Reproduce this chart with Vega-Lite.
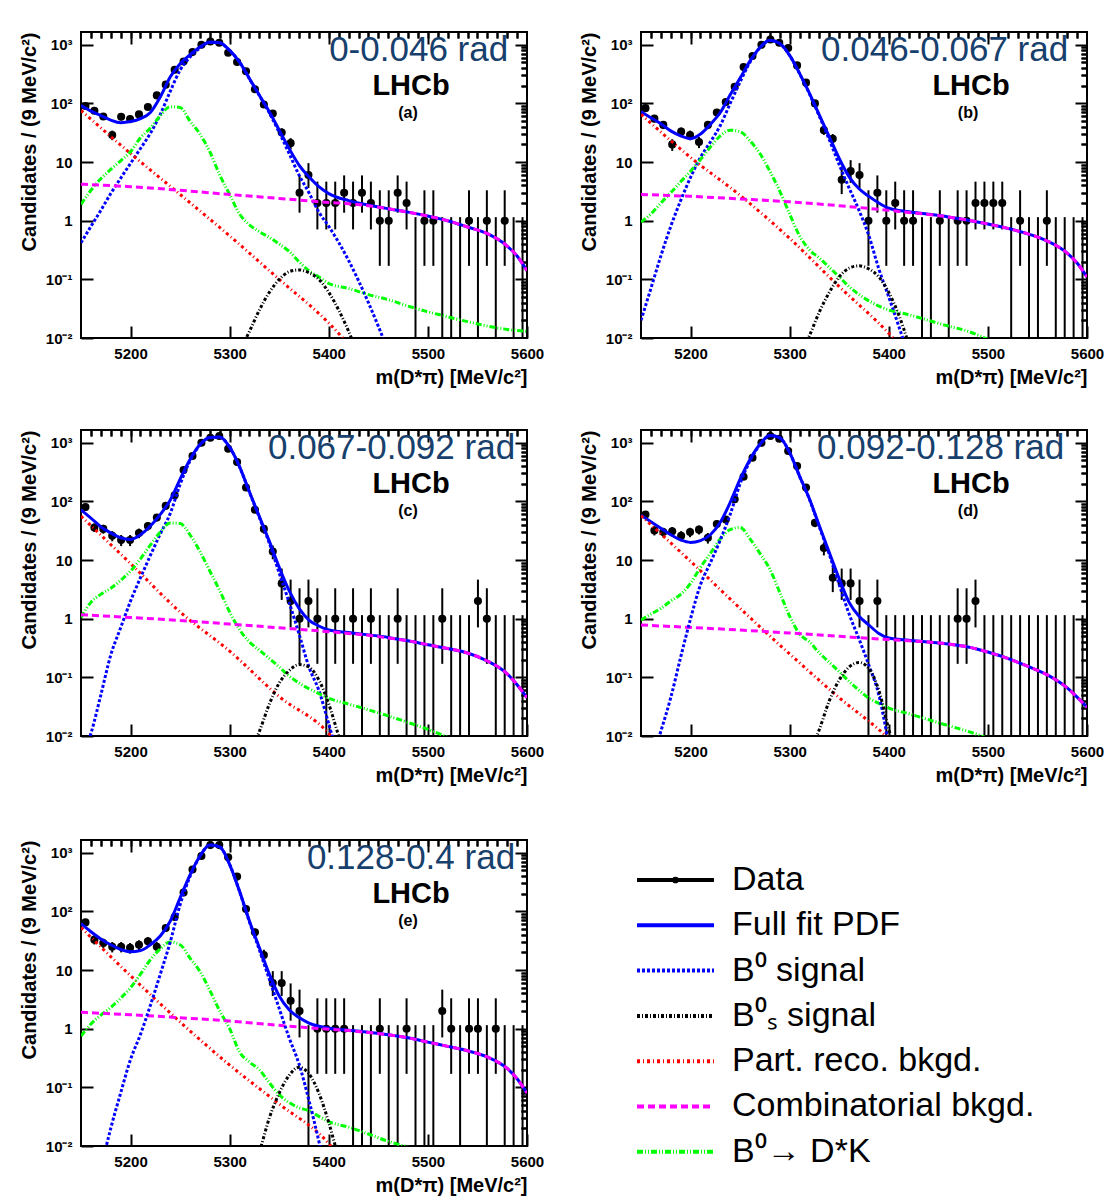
{
"$schema": "https://vega.github.io/schema/vega-lite/v6.json",
"background": "white",
"padding": {"left": 18, "top": 30, "right": 5, "bottom": 5},
"config": {
  "view": {"stroke": "black", "strokeWidth": 2},
  "axis": {"grid": false, "domain": false, "tickColor": "black", "tickWidth": 2, "labelFont": "Liberation Sans", "labelFontWeight": "bold", "labelFontSize": 15, "labelColor": "black", "titleFont": "Liberation Sans", "titleFontWeight": "bold", "titleFontSize": 20, "titleColor": "black", "labelFlush": false, "labelOverlap": false},
  "text": {"font": "Liberation Sans"}
},
"datasets": {
"pts": [
{"p":"a","m":5154.5,"n":90,"lo":80.5,"hi":99.5},
{"p":"a","m":5163.5,"n":75,"lo":66.3,"hi":83.7},
{"p":"a","m":5172.5,"n":60,"lo":52.3,"hi":67.7},
{"p":"a","m":5181.5,"n":29,"lo":23.6,"hi":34.4},
{"p":"a","m":5190.5,"n":59,"lo":51.3,"hi":66.7},
{"p":"a","m":5199.5,"n":54,"lo":46.7,"hi":61.3},
{"p":"a","m":5208.5,"n":65,"lo":56.9,"hi":73.1},
{"p":"a","m":5217.5,"n":87,"lo":77.7,"hi":96.3},
{"p":"a","m":5226.5,"n":137,"lo":125.3,"hi":148.7},
{"p":"a","m":5235.5,"n":209,"lo":194.5,"hi":223.5},
{"p":"a","m":5244.5,"n":376,"lo":356.6,"hi":395.4},
{"p":"a","m":5253.5,"n":520,"lo":497.2,"hi":542.8},
{"p":"a","m":5262.5,"n":750,"lo":722.6,"hi":777.4},
{"p":"a","m":5271.5,"n":1000,"lo":968.4,"hi":1031.6},
{"p":"a","m":5280.5,"n":1140,"lo":1106.2,"hi":1173.8},
{"p":"a","m":5289.5,"n":1080,"lo":1047.1,"hi":1112.9},
{"p":"a","m":5298.5,"n":730,"lo":703,"hi":757},
{"p":"a","m":5307.5,"n":507,"lo":484.5,"hi":529.5},
{"p":"a","m":5316.5,"n":353,"lo":334.2,"hi":371.8},
{"p":"a","m":5325.5,"n":174,"lo":160.8,"hi":187.2},
{"p":"a","m":5334.5,"n":96,"lo":86.2,"hi":105.8},
{"p":"a","m":5343.5,"n":67,"lo":58.8,"hi":75.2},
{"p":"a","m":5352.5,"n":32,"lo":26.3,"hi":37.7},
{"p":"a","m":5361.5,"n":21,"lo":16.4,"hi":25.6},
{"p":"a","m":5370.5,"n":3,"lo":1.37,"hi":5.92},
{"p":"a","m":5379.5,"n":6,"lo":3.62,"hi":9.58},
{"p":"a","m":5388.5,"n":2,"lo":0.71,"hi":4.64},
{"p":"a","m":5397.5,"n":2,"lo":0.71,"hi":4.64},
{"p":"a","m":5406.5,"n":2,"lo":0.71,"hi":4.64},
{"p":"a","m":5415.5,"n":3,"lo":1.37,"hi":5.92},
{"p":"a","m":5424.5,"n":2,"lo":0.71,"hi":4.64},
{"p":"a","m":5433.5,"n":3,"lo":1.37,"hi":5.92},
{"p":"a","m":5442.5,"n":2,"lo":0.71,"hi":4.64},
{"p":"a","m":5451.5,"n":1,"lo":0.17,"hi":3.3},
{"p":"a","m":5460.5,"n":1,"lo":0.17,"hi":3.3},
{"p":"a","m":5469.5,"n":3,"lo":1.37,"hi":5.92},
{"p":"a","m":5478.5,"n":2,"lo":0.71,"hi":4.64},
{"p":"a","m":5487.5,"n":0,"lo":0.001,"hi":1.15},
{"p":"a","m":5496.5,"n":1,"lo":0.17,"hi":3.3},
{"p":"a","m":5505.5,"n":1,"lo":0.17,"hi":3.3},
{"p":"a","m":5514.5,"n":0,"lo":0.001,"hi":1.15},
{"p":"a","m":5523.5,"n":0,"lo":0.001,"hi":1.15},
{"p":"a","m":5532.5,"n":0,"lo":0.001,"hi":1.15},
{"p":"a","m":5541.5,"n":1,"lo":0.17,"hi":3.3},
{"p":"a","m":5550.5,"n":0,"lo":0.001,"hi":1.15},
{"p":"a","m":5559.5,"n":1,"lo":0.17,"hi":3.3},
{"p":"a","m":5568.5,"n":0,"lo":0.001,"hi":1.15},
{"p":"a","m":5577.5,"n":1,"lo":0.17,"hi":3.3},
{"p":"a","m":5586.5,"n":0,"lo":0.001,"hi":1.15},
{"p":"a","m":5595.5,"n":0,"lo":0.001,"hi":1.15},
{"p":"b","m":5154.5,"n":83,"lo":73.9,"hi":92.1},
{"p":"b","m":5163.5,"n":55,"lo":47.6,"hi":62.4},
{"p":"b","m":5172.5,"n":43,"lo":36.4,"hi":49.6},
{"p":"b","m":5181.5,"n":20,"lo":15.5,"hi":24.5},
{"p":"b","m":5190.5,"n":33,"lo":27.3,"hi":38.7},
{"p":"b","m":5199.5,"n":29,"lo":23.6,"hi":34.4},
{"p":"b","m":5208.5,"n":22,"lo":17.3,"hi":26.7},
{"p":"b","m":5217.5,"n":43,"lo":36.4,"hi":49.6},
{"p":"b","m":5226.5,"n":70,"lo":61.6,"hi":78.4},
{"p":"b","m":5235.5,"n":106,"lo":95.7,"hi":116.3},
{"p":"b","m":5244.5,"n":192,"lo":178.1,"hi":205.9},
{"p":"b","m":5253.5,"n":418,"lo":397.6,"hi":438.4},
{"p":"b","m":5262.5,"n":642,"lo":616.7,"hi":667.3},
{"p":"b","m":5271.5,"n":1000,"lo":968.4,"hi":1031.6},
{"p":"b","m":5280.5,"n":1230,"lo":1194.9,"hi":1265.1},
{"p":"b","m":5289.5,"n":1080,"lo":1047.1,"hi":1112.9},
{"p":"b","m":5298.5,"n":880,"lo":850.3,"hi":909.7},
{"p":"b","m":5307.5,"n":445,"lo":423.9,"hi":466.1},
{"p":"b","m":5316.5,"n":226,"lo":211,"hi":241},
{"p":"b","m":5325.5,"n":100,"lo":90,"hi":110},
{"p":"b","m":5334.5,"n":35,"lo":29.1,"hi":40.9},
{"p":"b","m":5343.5,"n":25,"lo":20,"hi":30},
{"p":"b","m":5352.5,"n":5,"lo":2.84,"hi":8.38},
{"p":"b","m":5361.5,"n":7,"lo":4.42,"hi":10.77},
{"p":"b","m":5370.5,"n":6,"lo":3.62,"hi":9.58},
{"p":"b","m":5379.5,"n":1,"lo":0.17,"hi":3.3},
{"p":"b","m":5388.5,"n":3,"lo":1.37,"hi":5.92},
{"p":"b","m":5397.5,"n":1,"lo":0.17,"hi":3.3},
{"p":"b","m":5406.5,"n":2,"lo":0.71,"hi":4.64},
{"p":"b","m":5415.5,"n":1,"lo":0.17,"hi":3.3},
{"p":"b","m":5424.5,"n":1,"lo":0.17,"hi":3.3},
{"p":"b","m":5433.5,"n":0,"lo":0.001,"hi":1.15},
{"p":"b","m":5442.5,"n":0,"lo":0.001,"hi":1.15},
{"p":"b","m":5451.5,"n":1,"lo":0.17,"hi":3.3},
{"p":"b","m":5460.5,"n":0,"lo":0.001,"hi":1.15},
{"p":"b","m":5469.5,"n":1,"lo":0.17,"hi":3.3},
{"p":"b","m":5478.5,"n":1,"lo":0.17,"hi":3.3},
{"p":"b","m":5487.5,"n":2,"lo":0.71,"hi":4.64},
{"p":"b","m":5496.5,"n":2,"lo":0.71,"hi":4.64},
{"p":"b","m":5505.5,"n":2,"lo":0.71,"hi":4.64},
{"p":"b","m":5514.5,"n":2,"lo":0.71,"hi":4.64},
{"p":"b","m":5523.5,"n":0,"lo":0.001,"hi":1.15},
{"p":"b","m":5532.5,"n":1,"lo":0.17,"hi":3.3},
{"p":"b","m":5541.5,"n":0,"lo":0.001,"hi":1.15},
{"p":"b","m":5550.5,"n":0,"lo":0.001,"hi":1.15},
{"p":"b","m":5559.5,"n":1,"lo":0.17,"hi":3.3},
{"p":"b","m":5568.5,"n":0,"lo":0.001,"hi":1.15},
{"p":"b","m":5577.5,"n":0,"lo":0.001,"hi":1.15},
{"p":"b","m":5586.5,"n":0,"lo":0.001,"hi":1.15},
{"p":"b","m":5595.5,"n":0,"lo":0.001,"hi":1.15},
{"p":"c","m":5154.5,"n":80,"lo":71.1,"hi":88.9},
{"p":"c","m":5163.5,"n":36,"lo":30,"hi":42},
{"p":"c","m":5172.5,"n":34,"lo":28.2,"hi":39.8},
{"p":"c","m":5181.5,"n":26,"lo":20.9,"hi":31.1},
{"p":"c","m":5190.5,"n":22,"lo":17.3,"hi":26.7},
{"p":"c","m":5199.5,"n":22,"lo":17.3,"hi":26.7},
{"p":"c","m":5208.5,"n":29,"lo":23.6,"hi":34.4},
{"p":"c","m":5217.5,"n":38,"lo":31.8,"hi":44.2},
{"p":"c","m":5226.5,"n":53,"lo":45.7,"hi":60.3},
{"p":"c","m":5235.5,"n":84,"lo":74.8,"hi":93.2},
{"p":"c","m":5244.5,"n":127,"lo":115.7,"hi":138.3},
{"p":"c","m":5253.5,"n":344,"lo":325.5,"hi":362.5},
{"p":"c","m":5262.5,"n":593,"lo":568.6,"hi":617.4},
{"p":"c","m":5271.5,"n":1000,"lo":968.4,"hi":1031.6},
{"p":"c","m":5280.5,"n":1220,"lo":1185.1,"hi":1254.9},
{"p":"c","m":5289.5,"n":1300,"lo":1263.9,"hi":1336.1},
{"p":"c","m":5298.5,"n":790,"lo":761.9,"hi":818.1},
{"p":"c","m":5307.5,"n":470,"lo":448.3,"hi":491.7},
{"p":"c","m":5316.5,"n":172,"lo":158.9,"hi":185.1},
{"p":"c","m":5325.5,"n":72,"lo":63.5,"hi":80.5},
{"p":"c","m":5334.5,"n":34,"lo":28.2,"hi":39.8},
{"p":"c","m":5343.5,"n":14,"lo":10.3,"hi":17.7},
{"p":"c","m":5352.5,"n":4,"lo":2.09,"hi":7.16},
{"p":"c","m":5361.5,"n":2,"lo":0.71,"hi":4.64},
{"p":"c","m":5370.5,"n":1,"lo":0.17,"hi":3.3},
{"p":"c","m":5379.5,"n":2,"lo":0.71,"hi":4.64},
{"p":"c","m":5388.5,"n":1,"lo":0.17,"hi":3.3},
{"p":"c","m":5397.5,"n":0,"lo":0.001,"hi":1.15},
{"p":"c","m":5406.5,"n":1,"lo":0.17,"hi":3.3},
{"p":"c","m":5415.5,"n":0,"lo":0.001,"hi":1.15},
{"p":"c","m":5424.5,"n":1,"lo":0.17,"hi":3.3},
{"p":"c","m":5433.5,"n":0,"lo":0.001,"hi":1.15},
{"p":"c","m":5442.5,"n":1,"lo":0.17,"hi":3.3},
{"p":"c","m":5451.5,"n":0,"lo":0.001,"hi":1.15},
{"p":"c","m":5460.5,"n":0,"lo":0.001,"hi":1.15},
{"p":"c","m":5469.5,"n":1,"lo":0.17,"hi":3.3},
{"p":"c","m":5478.5,"n":0,"lo":0.001,"hi":1.15},
{"p":"c","m":5487.5,"n":0,"lo":0.001,"hi":1.15},
{"p":"c","m":5496.5,"n":0,"lo":0.001,"hi":1.15},
{"p":"c","m":5505.5,"n":0,"lo":0.001,"hi":1.15},
{"p":"c","m":5514.5,"n":1,"lo":0.17,"hi":3.3},
{"p":"c","m":5523.5,"n":0,"lo":0.001,"hi":1.15},
{"p":"c","m":5532.5,"n":0,"lo":0.001,"hi":1.15},
{"p":"c","m":5541.5,"n":0,"lo":0.001,"hi":1.15},
{"p":"c","m":5550.5,"n":2,"lo":0.71,"hi":4.64},
{"p":"c","m":5559.5,"n":1,"lo":0.17,"hi":3.3},
{"p":"c","m":5568.5,"n":0,"lo":0.001,"hi":1.15},
{"p":"c","m":5577.5,"n":0,"lo":0.001,"hi":1.15},
{"p":"c","m":5586.5,"n":0,"lo":0.001,"hi":1.15},
{"p":"c","m":5595.5,"n":0,"lo":0.001,"hi":1.15},
{"p":"d","m":5154.5,"n":60,"lo":52.3,"hi":67.7},
{"p":"d","m":5163.5,"n":32,"lo":26.3,"hi":37.7},
{"p":"d","m":5172.5,"n":30,"lo":24.5,"hi":35.5},
{"p":"d","m":5181.5,"n":31,"lo":25.4,"hi":36.6},
{"p":"d","m":5190.5,"n":26,"lo":20.9,"hi":31.1},
{"p":"d","m":5199.5,"n":30,"lo":24.5,"hi":35.5},
{"p":"d","m":5208.5,"n":33,"lo":27.3,"hi":38.7},
{"p":"d","m":5217.5,"n":24,"lo":19.1,"hi":28.9},
{"p":"d","m":5226.5,"n":41,"lo":34.6,"hi":47.4},
{"p":"d","m":5235.5,"n":49,"lo":42,"hi":56},
{"p":"d","m":5244.5,"n":109,"lo":98.6,"hi":119.4},
{"p":"d","m":5253.5,"n":264,"lo":247.8,"hi":280.2},
{"p":"d","m":5262.5,"n":556,"lo":532.4,"hi":579.6},
{"p":"d","m":5271.5,"n":1000,"lo":968.4,"hi":1031.6},
{"p":"d","m":5280.5,"n":1300,"lo":1263.9,"hi":1336.1},
{"p":"d","m":5289.5,"n":1170,"lo":1135.8,"hi":1204.2},
{"p":"d","m":5298.5,"n":722,"lo":695.1,"hi":748.9},
{"p":"d","m":5307.5,"n":400,"lo":380,"hi":420},
{"p":"d","m":5316.5,"n":172,"lo":158.9,"hi":185.1},
{"p":"d","m":5325.5,"n":43,"lo":36.4,"hi":49.6},
{"p":"d","m":5334.5,"n":16,"lo":12,"hi":20},
{"p":"d","m":5343.5,"n":5,"lo":2.84,"hi":8.38},
{"p":"d","m":5352.5,"n":4,"lo":2.09,"hi":7.16},
{"p":"d","m":5361.5,"n":4,"lo":2.09,"hi":7.16},
{"p":"d","m":5370.5,"n":2,"lo":0.71,"hi":4.64},
{"p":"d","m":5379.5,"n":0,"lo":0.001,"hi":1.15},
{"p":"d","m":5388.5,"n":2,"lo":0.71,"hi":4.64},
{"p":"d","m":5397.5,"n":0,"lo":0.001,"hi":1.15},
{"p":"d","m":5406.5,"n":0,"lo":0.001,"hi":1.15},
{"p":"d","m":5415.5,"n":0,"lo":0.001,"hi":1.15},
{"p":"d","m":5424.5,"n":0,"lo":0.001,"hi":1.15},
{"p":"d","m":5433.5,"n":0,"lo":0.001,"hi":1.15},
{"p":"d","m":5442.5,"n":0,"lo":0.001,"hi":1.15},
{"p":"d","m":5451.5,"n":0,"lo":0.001,"hi":1.15},
{"p":"d","m":5460.5,"n":0,"lo":0.001,"hi":1.15},
{"p":"d","m":5469.5,"n":1,"lo":0.17,"hi":3.3},
{"p":"d","m":5478.5,"n":1,"lo":0.17,"hi":3.3},
{"p":"d","m":5487.5,"n":2,"lo":0.71,"hi":4.64},
{"p":"d","m":5496.5,"n":0,"lo":0.001,"hi":1.15},
{"p":"d","m":5505.5,"n":0,"lo":0.001,"hi":1.15},
{"p":"d","m":5514.5,"n":0,"lo":0.001,"hi":1.15},
{"p":"d","m":5523.5,"n":0,"lo":0.001,"hi":1.15},
{"p":"d","m":5532.5,"n":0,"lo":0.001,"hi":1.15},
{"p":"d","m":5541.5,"n":0,"lo":0.001,"hi":1.15},
{"p":"d","m":5550.5,"n":0,"lo":0.001,"hi":1.15},
{"p":"d","m":5559.5,"n":0,"lo":0.001,"hi":1.15},
{"p":"d","m":5568.5,"n":0,"lo":0.001,"hi":1.15},
{"p":"d","m":5577.5,"n":0,"lo":0.001,"hi":1.15},
{"p":"d","m":5586.5,"n":0,"lo":0.001,"hi":1.15},
{"p":"d","m":5595.5,"n":0,"lo":0.001,"hi":1.15},
{"p":"e","m":5154.5,"n":65,"lo":56.9,"hi":73.1},
{"p":"e","m":5163.5,"n":33,"lo":27.3,"hi":38.7},
{"p":"e","m":5172.5,"n":29,"lo":23.6,"hi":34.4},
{"p":"e","m":5181.5,"n":25,"lo":20,"hi":30},
{"p":"e","m":5190.5,"n":25,"lo":20,"hi":30},
{"p":"e","m":5199.5,"n":24,"lo":19.1,"hi":28.9},
{"p":"e","m":5208.5,"n":27,"lo":21.8,"hi":32.2},
{"p":"e","m":5217.5,"n":31,"lo":25.4,"hi":36.6},
{"p":"e","m":5226.5,"n":25,"lo":20,"hi":30},
{"p":"e","m":5235.5,"n":52,"lo":44.8,"hi":59.2},
{"p":"e","m":5244.5,"n":80,"lo":71.1,"hi":88.9},
{"p":"e","m":5253.5,"n":210,"lo":195.5,"hi":224.5},
{"p":"e","m":5262.5,"n":520,"lo":497.2,"hi":542.8},
{"p":"e","m":5271.5,"n":880,"lo":850.3,"hi":909.7},
{"p":"e","m":5280.5,"n":1350,"lo":1313.3,"hi":1386.7},
{"p":"e","m":5289.5,"n":1350,"lo":1313.3,"hi":1386.7},
{"p":"e","m":5298.5,"n":835,"lo":806.1,"hi":863.9},
{"p":"e","m":5307.5,"n":392,"lo":372.2,"hi":411.8},
{"p":"e","m":5316.5,"n":110,"lo":99.5,"hi":120.5},
{"p":"e","m":5325.5,"n":44,"lo":37.4,"hi":50.6},
{"p":"e","m":5334.5,"n":18,"lo":13.8,"hi":22.2},
{"p":"e","m":5343.5,"n":6,"lo":3.62,"hi":9.58},
{"p":"e","m":5352.5,"n":6,"lo":3.62,"hi":9.58},
{"p":"e","m":5361.5,"n":3,"lo":1.37,"hi":5.92},
{"p":"e","m":5370.5,"n":2,"lo":0.71,"hi":4.64},
{"p":"e","m":5379.5,"n":0,"lo":0.001,"hi":1.15},
{"p":"e","m":5388.5,"n":1,"lo":0.17,"hi":3.3},
{"p":"e","m":5397.5,"n":1,"lo":0.17,"hi":3.3},
{"p":"e","m":5406.5,"n":1,"lo":0.17,"hi":3.3},
{"p":"e","m":5415.5,"n":1,"lo":0.17,"hi":3.3},
{"p":"e","m":5424.5,"n":0,"lo":0.001,"hi":1.15},
{"p":"e","m":5433.5,"n":0,"lo":0.001,"hi":1.15},
{"p":"e","m":5442.5,"n":0,"lo":0.001,"hi":1.15},
{"p":"e","m":5451.5,"n":1,"lo":0.17,"hi":3.3},
{"p":"e","m":5460.5,"n":0,"lo":0.001,"hi":1.15},
{"p":"e","m":5469.5,"n":0,"lo":0.001,"hi":1.15},
{"p":"e","m":5478.5,"n":1,"lo":0.17,"hi":3.3},
{"p":"e","m":5487.5,"n":0,"lo":0.001,"hi":1.15},
{"p":"e","m":5496.5,"n":0,"lo":0.001,"hi":1.15},
{"p":"e","m":5505.5,"n":0,"lo":0.001,"hi":1.15},
{"p":"e","m":5514.5,"n":2,"lo":0.71,"hi":4.64},
{"p":"e","m":5523.5,"n":1,"lo":0.17,"hi":3.3},
{"p":"e","m":5532.5,"n":0,"lo":0.001,"hi":1.15},
{"p":"e","m":5541.5,"n":1,"lo":0.17,"hi":3.3},
{"p":"e","m":5550.5,"n":1,"lo":0.17,"hi":3.3},
{"p":"e","m":5559.5,"n":0,"lo":0.001,"hi":1.15},
{"p":"e","m":5568.5,"n":1,"lo":0.17,"hi":3.3},
{"p":"e","m":5577.5,"n":0,"lo":0.001,"hi":1.15},
{"p":"e","m":5586.5,"n":0,"lo":0.001,"hi":1.15},
{"p":"e","m":5595.5,"n":0,"lo":0.001,"hi":1.15}
],
"cur": [
{"p":"a","m":5150,"f":92,"s":0.42,"pr":76,"cb":4.2,"dk":1.9},
{"p":"a","m":5160,"f":74,"s":0.8,"dk":3.3},
{"p":"a","m":5170,"f":62,"s":1.5,"dk":5.2},
{"p":"a","m":5180,"f":52,"s":2.9,"dk":7.5},
{"p":"a","m":5190,"f":47,"s":5.3,"dk":10.5},
{"p":"a","m":5200,"f":49,"s":9.5,"pr":14,"cb":3.8,"dk":15},
{"p":"a","m":5210,"f":55,"s":17,"dk":26},
{"p":"a","m":5220,"f":70,"s":31,"dk":38},
{"p":"a","m":5230,"f":129,"s":65,"dk":62},
{"p":"a","m":5240,"f":282,"s":160,"dk":88},
{"p":"a","m":5250,"f":476,"s":370,"pr":2.8,"cb":3.3,"dk":85},
{"p":"a","m":5260,"f":676,"s":620,"dk":50},
{"p":"a","m":5270,"f":913,"s":880,"dk":30},
{"p":"a","m":5280,"f":1110,"s":1095,"dk":15},
{"p":"a","m":5290,"f":1080,"s":1075,"dk":6},
{"p":"a","m":5300,"f":800,"s":795,"pr":0.55,"cb":2.8,"dk":2.8},
{"p":"a","m":5310,"f":507,"s":505,"bs":0.006,"dk":1.3},
{"p":"a","m":5320,"f":264,"s":262,"bs":0.013,"dk":0.85},
{"p":"a","m":5330,"f":138,"s":136,"bs":0.03,"dk":0.65},
{"p":"a","m":5340,"f":72,"s":69,"bs":0.06,"dk":0.52},
{"p":"a","m":5350,"f":35,"s":32,"pr":0.1,"cb":2.4,"bs":0.1,"dk":0.4},
{"p":"a","m":5360,"f":17,"s":14,"bs":0.135,"dk":0.3},
{"p":"a","m":5370,"f":8.9,"s":6,"bs":0.145,"dk":0.2},
{"p":"a","m":5380,"f":5.6,"s":3,"bs":0.13,"dk":0.14},
{"p":"a","m":5390,"f":3.8,"s":1.4,"bs":0.1,"dk":0.11},
{"p":"a","m":5400,"f":2.9,"s":0.8,"pr":0.018,"cb":2.05,"bs":0.06,"dk":0.085},
{"p":"a","m":5410,"bs":0.03},
{"p":"a","m":5420,"f":2.2,"s":0.21,"cb":1.95,"bs":0.013,"dk":0.07},
{"p":"a","m":5430,"pr":0.005,"bs":0.005},
{"p":"a","m":5440,"f":1.85,"s":0.04,"cb":1.8,"dk":0.055},
{"p":"a","m":5460,"f":1.6,"s":0.006,"cb":1.6,"dk":0.045},
{"p":"a","m":5480,"f":1.4,"cb":1.4,"dk":0.035},
{"p":"a","m":5500,"f":1.2,"cb":1.2,"dk":0.028},
{"p":"a","m":5520,"f":1.0,"cb":1.0,"dk":0.023},
{"p":"a","m":5540,"f":0.78,"cb":0.78,"dk":0.019},
{"p":"a","m":5560,"f":0.6,"cb":0.6,"dk":0.016},
{"p":"a","m":5580,"f":0.37,"cb":0.37,"dk":0.014},
{"p":"a","m":5590,"f":0.25,"cb":0.25},
{"p":"a","m":5600,"f":0.14,"cb":0.14,"dk":0.013},
{"p":"b","m":5150,"f":72,"s":0.02,"pr":65,"cb":2.8,"dk":0.95},
{"p":"b","m":5160,"f":57,"s":0.07,"dk":1.3},
{"p":"b","m":5170,"f":45,"s":0.25,"dk":2.0},
{"p":"b","m":5180,"f":34,"s":0.8,"dk":3.0},
{"p":"b","m":5190,"f":28,"s":2.2,"dk":4.6},
{"p":"b","m":5200,"f":25,"s":5.5,"pr":12,"cb":2.6,"dk":7},
{"p":"b","m":5210,"f":30,"s":12,"dk":11},
{"p":"b","m":5220,"f":44,"s":22,"dk":18},
{"p":"b","m":5230,"f":70,"s":42,"dk":28},
{"p":"b","m":5240,"f":140,"s":100,"dk":35},
{"p":"b","m":5250,"f":270,"s":232,"pr":2.7,"cb":2.35,"dk":33},
{"p":"b","m":5260,"f":530,"s":505,"dk":23},
{"p":"b","m":5270,"f":900,"s":885,"dk":14},
{"p":"b","m":5280,"f":1190,"s":1180,"dk":7},
{"p":"b","m":5290,"f":1050,"s":1045,"dk":3.2},
{"p":"b","m":5300,"f":660,"s":655,"pr":0.5,"cb":2.1,"dk":1.3},
{"p":"b","m":5310,"f":325,"s":322,"bs":0.005,"dk":0.55},
{"p":"b","m":5320,"f":148,"s":145,"bs":0.011,"dk":0.32},
{"p":"b","m":5330,"f":63,"s":60,"bs":0.028,"dk":0.23},
{"p":"b","m":5340,"f":27,"s":24,"bs":0.06,"dk":0.16},
{"p":"b","m":5350,"f":11.5,"s":9,"pr":0.075,"cb":1.8,"bs":0.11,"dk":0.11},
{"p":"b","m":5360,"f":5.6,"s":3.6,"bs":0.155,"dk":0.075},
{"p":"b","m":5370,"f":3.5,"s":1.5,"bs":0.17,"dk":0.055},
{"p":"b","m":5380,"f":2.6,"s":0.55,"bs":0.15,"dk":0.043},
{"p":"b","m":5390,"f":2.0,"s":0.15,"bs":0.11,"dk":0.035},
{"p":"b","m":5400,"f":1.63,"s":0.05,"pr":0.012,"cb":1.5,"bs":0.06,"dk":0.03},
{"p":"b","m":5410,"s":0.016,"bs":0.025},
{"p":"b","m":5420,"f":1.42,"s":0.005,"pr":0.005,"cb":1.38,"bs":0.008,"dk":0.025},
{"p":"b","m":5440,"f":1.29,"cb":1.28,"dk":0.02},
{"p":"b","m":5460,"f":1.16,"cb":1.16,"dk":0.016},
{"p":"b","m":5480,"f":1.02,"cb":1.02,"dk":0.013},
{"p":"b","m":5500,"f":0.88,"cb":0.88,"dk":0.0095},
{"p":"b","m":5520,"f":0.74,"cb":0.74,"dk":0.007},
{"p":"b","m":5540,"f":0.6,"cb":0.6},
{"p":"b","m":5560,"f":0.45,"cb":0.45},
{"p":"b","m":5580,"f":0.28,"cb":0.28},
{"p":"b","m":5590,"f":0.19,"cb":0.19},
{"p":"b","m":5600,"f":0.11,"cb":0.11},
{"p":"c","m":5150,"f":72,"s":0.004,"pr":56,"cb":1.17,"dk":1.05},
{"p":"c","m":5160,"f":52,"s":0.011,"dk":1.9},
{"p":"c","m":5170,"f":37,"s":0.05,"dk":2.6},
{"p":"c","m":5180,"f":29,"s":0.24,"dk":3.3},
{"p":"c","m":5190,"f":24,"s":0.7,"dk":4.5},
{"p":"c","m":5200,"f":22.5,"s":2,"pr":8.7,"cb":1.05,"dk":6.5},
{"p":"c","m":5210,"f":27,"s":5,"dk":10.5},
{"p":"c","m":5220,"f":38,"s":12,"dk":18},
{"p":"c","m":5230,"f":60,"s":28,"dk":30},
{"p":"c","m":5240,"f":105,"s":62,"dk":43},
{"p":"c","m":5250,"f":240,"s":195,"pr":1.3,"cb":0.93,"dk":42},
{"p":"c","m":5260,"f":520,"s":490,"dk":27},
{"p":"c","m":5270,"f":930,"s":915,"dk":14},
{"p":"c","m":5280,"f":1230,"s":1222,"dk":6.5},
{"p":"c","m":5290,"f":1250,"s":1246,"dk":3},
{"p":"c","m":5300,"f":840,"s":838,"pr":0.28,"cb":0.81,"dk":1.3},
{"p":"c","m":5310,"f":390,"s":388,"dk":0.65},
{"p":"c","m":5320,"f":145,"s":143,"bs":0.005,"dk":0.4},
{"p":"c","m":5330,"f":55,"s":53,"bs":0.012,"dk":0.29},
{"p":"c","m":5340,"f":21,"s":19.5,"bs":0.035,"dk":0.21},
{"p":"c","m":5350,"f":7.5,"s":6,"pr":0.047,"cb":0.7,"bs":0.08,"dk":0.15},
{"p":"c","m":5360,"f":3.0,"s":1.9,"bs":0.13,"dk":0.105},
{"p":"c","m":5370,"f":1.5,"s":0.55,"bs":0.165,"dk":0.08},
{"p":"c","m":5380,"f":0.95,"s":0.15,"bs":0.15,"dk":0.064},
{"p":"c","m":5390,"f":0.75,"s":0.06,"bs":0.09,"dk":0.053},
{"p":"c","m":5400,"f":0.64,"s":0.016,"pr":0.011,"cb":0.6,"bs":0.035,"dk":0.044},
{"p":"c","m":5410,"s":0.004,"bs":0.01},
{"p":"c","m":5420,"f":0.58,"pr":0.004,"cb":0.56,"bs":0.003,"dk":0.035},
{"p":"c","m":5440,"f":0.53,"cb":0.52,"dk":0.028},
{"p":"c","m":5460,"f":0.48,"cb":0.47,"dk":0.022},
{"p":"c","m":5480,"f":0.42,"cb":0.42,"dk":0.017},
{"p":"c","m":5500,"f":0.36,"cb":0.36,"dk":0.013},
{"p":"c","m":5520,"f":0.31,"cb":0.31,"dk":0.0095},
{"p":"c","m":5540,"f":0.26,"cb":0.26,"dk":0.007},
{"p":"c","m":5560,"f":0.19,"cb":0.19},
{"p":"c","m":5580,"f":0.115,"cb":0.115},
{"p":"c","m":5590,"f":0.075,"cb":0.075},
{"p":"c","m":5600,"f":0.045,"cb":0.045},
{"p":"d","m":5150,"f":58,"pr":57,"cb":0.78,"dk":0.95},
{"p":"d","m":5160,"f":45,"s":0.0035,"dk":1.2},
{"p":"d","m":5170,"f":35,"s":0.012,"dk":1.5},
{"p":"d","m":5180,"f":27,"s":0.045,"dk":2.0},
{"p":"d","m":5190,"f":22,"s":0.22,"dk":2.6},
{"p":"d","m":5200,"f":20,"s":1.0,"pr":9.5,"cb":0.71,"dk":4},
{"p":"d","m":5210,"f":21.5,"s":3.8,"dk":7.5},
{"p":"d","m":5220,"f":27,"s":9,"dk":13},
{"p":"d","m":5230,"f":44,"s":22,"dk":23},
{"p":"d","m":5240,"f":96,"s":60,"dk":33},
{"p":"d","m":5250,"f":240,"s":200,"pr":1.5,"cb":0.64,"dk":36},
{"p":"d","m":5260,"f":520,"s":495,"dk":23},
{"p":"d","m":5270,"f":940,"s":925,"dk":13},
{"p":"d","m":5280,"f":1330,"s":1322,"dk":7},
{"p":"d","m":5290,"f":1220,"s":1216,"dk":2.8},
{"p":"d","m":5300,"f":680,"s":678,"pr":0.25,"cb":0.57,"dk":1.1},
{"p":"d","m":5310,"f":270,"s":268,"dk":0.55},
{"p":"d","m":5320,"f":110,"s":108,"bs":0.005,"dk":0.4},
{"p":"d","m":5330,"f":38,"s":36.5,"bs":0.013,"dk":0.26},
{"p":"d","m":5340,"f":13.5,"s":12.5,"bs":0.04,"dk":0.18},
{"p":"d","m":5350,"f":4.8,"s":3.8,"pr":0.045,"cb":0.5,"bs":0.09,"dk":0.125},
{"p":"d","m":5360,"f":1.9,"s":1.2,"bs":0.15,"dk":0.085},
{"p":"d","m":5370,"f":1.1,"s":0.45,"bs":0.18,"dk":0.06},
{"p":"d","m":5380,"f":0.78,"s":0.16,"bs":0.14,"dk":0.044},
{"p":"d","m":5390,"f":0.56,"s":0.05,"bs":0.06,"dk":0.036},
{"p":"d","m":5400,"f":0.47,"s":0.007,"pr":0.009,"cb":0.44,"bs":0.013,"dk":0.03},
{"p":"d","m":5410,"bs":0.004},
{"p":"d","m":5420,"f":0.43,"pr":0.004,"cb":0.42,"dk":0.024},
{"p":"d","m":5440,"f":0.4,"cb":0.4,"dk":0.019},
{"p":"d","m":5460,"f":0.37,"cb":0.37,"dk":0.015},
{"p":"d","m":5480,"f":0.33,"cb":0.33,"dk":0.012},
{"p":"d","m":5500,"f":0.27,"cb":0.27,"dk":0.009},
{"p":"d","m":5520,"f":0.21,"cb":0.21,"dk":0.006},
{"p":"d","m":5540,"f":0.155,"cb":0.155},
{"p":"d","m":5560,"f":0.11,"cb":0.11},
{"p":"d","m":5580,"f":0.066,"cb":0.066},
{"p":"d","m":5590,"f":0.046,"cb":0.046},
{"p":"d","m":5600,"f":0.031,"cb":0.031},
{"p":"e","m":5150,"f":62,"pr":53,"cb":1.9,"dk":0.75},
{"p":"e","m":5160,"f":45,"dk":1.2},
{"p":"e","m":5170,"f":34,"s":0.004,"dk":1.7},
{"p":"e","m":5180,"f":27,"s":0.02,"dk":2.3},
{"p":"e","m":5190,"f":22.5,"s":0.08,"dk":3.3},
{"p":"e","m":5200,"f":20.5,"s":0.3,"pr":8,"cb":1.73,"dk":5},
{"p":"e","m":5210,"f":21.5,"s":0.8,"dk":8.5},
{"p":"e","m":5220,"f":27,"s":2.5,"dk":15},
{"p":"e","m":5230,"f":38,"s":8.5,"dk":23},
{"p":"e","m":5240,"f":68,"s":30,"dk":30},
{"p":"e","m":5250,"f":170,"s":130,"pr":1.3,"cb":1.54,"dk":27},
{"p":"e","m":5260,"f":420,"s":395,"dk":16},
{"p":"e","m":5270,"f":880,"s":865,"dk":9.5},
{"p":"e","m":5280,"f":1360,"s":1354,"dk":4.5},
{"p":"e","m":5290,"f":1260,"s":1257,"dk":2},
{"p":"e","m":5300,"f":630,"s":628,"pr":0.24,"cb":1.35,"dk":1.0},
{"p":"e","m":5310,"f":220,"s":218,"dk":0.4},
{"p":"e","m":5320,"f":68,"s":66,"bs":0.003,"dk":0.27},
{"p":"e","m":5330,"f":24,"s":22,"bs":0.008,"dk":0.2},
{"p":"e","m":5340,"f":8.5,"s":7,"bs":0.03,"dk":0.12},
{"p":"e","m":5350,"f":3.6,"s":2.2,"pr":0.052,"cb":1.14,"bs":0.08,"dk":0.075},
{"p":"e","m":5360,"f":2.1,"s":0.7,"bs":0.16,"dk":0.055},
{"p":"e","m":5370,"f":1.55,"s":0.25,"bs":0.22,"dk":0.045},
{"p":"e","m":5380,"f":1.25,"s":0.06,"bs":0.17,"dk":0.04},
{"p":"e","m":5390,"f":1.1,"s":0.012,"bs":0.08,"dk":0.032},
{"p":"e","m":5400,"f":1.02,"s":0.002,"pr":0.011,"cb":0.98,"bs":0.025,"dk":0.026},
{"p":"e","m":5410,"bs":0.006},
{"p":"e","m":5420,"f":0.94,"pr":0.004,"cb":0.93,"dk":0.021},
{"p":"e","m":5440,"f":0.87,"cb":0.86,"dk":0.016},
{"p":"e","m":5460,"f":0.79,"cb":0.79,"dk":0.012},
{"p":"e","m":5480,"f":0.7,"cb":0.7,"dk":0.0095},
{"p":"e","m":5500,"f":0.59,"cb":0.59,"dk":0.007},
{"p":"e","m":5520,"f":0.5,"cb":0.5},
{"p":"e","m":5540,"f":0.42,"cb":0.42},
{"p":"e","m":5560,"f":0.33,"cb":0.33},
{"p":"e","m":5580,"f":0.21,"cb":0.21},
{"p":"e","m":5590,"f":0.14,"cb":0.14},
{"p":"e","m":5600,"f":0.08,"cb":0.08}
],
"leg": [
{"o":0,"c":"data","t":"Data"},
{"o":1,"c":"f","t":"Full fit PDF"},
{"o":2,"c":"s","t":"B⁰ signal"},
{"o":3,"c":"bs","t":"B⁰ₛ signal"},
{"o":4,"c":"pr","t":"Part. reco. bkgd."},
{"o":5,"c":"cb","t":"Combinatorial bkgd."},
{"o":6,"c":"dk","t":"B⁰→ D*K"}
]
},
"spacing": 52,
"vconcat": [
{"spacing": 40, "vconcat": [
{"spacing": 33, "hconcat": [
{"width": 446, "height": 306, "resolve": {"axis": {"x": "independent", "y": "independent"}}, "layer": [
 {"data": {"name": "pts"}, "transform": [{"filter": "datum.p == 'a'"}], "mark": {"type": "rule", "color": "black", "strokeWidth": 2, "clip": true},
  "encoding": {"x": {"field": "m", "type": "quantitative", "scale": {"domain": [5150, 5600], "nice": false, "zero": false}, "axis": {"values": [5200, 5300, 5400, 5500, 5600], "format": "d", "tickSize": -12, "labelPadding": 20, "title": "m(D*π) [MeV/c²]", "titleAnchor": "end", "titlePadding": 6}},
   "y": {"field": "lo", "type": "quantitative", "scale": {"type": "log", "domain": [0.01, 1650], "nice": false}, "axis": {"values": [0.01, 0.1, 1, 10, 100, 1000], "tickSize": -12, "labelPadding": 21, "labelExpr": "datum.value >= 1000 ? '10³' : datum.value >= 100 ? '10²' : datum.value >= 10 ? '10' : datum.value >= 1 ? '1' : datum.value >= 0.1 ? '10⁻¹' : '10⁻²'", "title": "Candidates / (9 MeV/c²)", "titleAnchor": "end", "titlePadding": 6}},
   "y2": {"field": "hi"}}},
 {"data": {"name": "pts"}, "transform": [{"filter": "datum.p == 'a' && datum.n > 0"}], "mark": {"type": "circle", "color": "black", "opacity": 1, "size": 65, "clip": true},
  "encoding": {"x": {"field": "m", "type": "quantitative", "scale": {"domain": [5150, 5600], "nice": false, "zero": false}, "axis": {"values": [5160,5170,5180,5190,5200,5210,5220,5230,5240,5250,5260,5270,5280,5290,5300,5310,5320,5330,5340,5350,5360,5370,5380,5390,5400,5410,5420,5430,5440,5450,5460,5470,5480,5490,5500,5510,5520,5530,5540,5550,5560,5570,5580,5590], "tickSize": -6, "labels": false, "title": null}},
   "y": {"field": "n", "type": "quantitative", "scale": {"type": "log", "domain": [0.01, 1650], "nice": false}, "axis": {"values": [0.02,0.03,0.04,0.05,0.06,0.07,0.08,0.09,0.2,0.3,0.4,0.5,0.6,0.7,0.8,0.9,2,3,4,5,6,7,8,9,20,30,40,50,60,70,80,90,200,300,400,500,600,700,800,900], "tickSize": -6, "labels": false, "title": null}}}},
 {"data": {"name": "cur"}, "transform": [{"filter": "datum.p == 'a' && isValid(datum.f)"}], "mark": {"type": "line", "color": "#0000ff", "strokeWidth": 3, "clip": true, "interpolate": "monotone"},
  "encoding": {"x": {"field": "m", "type": "quantitative", "scale": {"domain": [5150, 5600], "nice": false, "zero": false}, "axis": {"orient": "top", "values": [5200, 5300, 5400, 5500], "tickSize": -12, "labels": false, "title": null}},
   "y": {"field": "f", "type": "quantitative", "scale": {"type": "log", "domain": [0.01, 1650], "nice": false}, "axis": {"orient": "right", "values": [0.1, 1, 10, 100, 1000], "tickSize": -12, "labels": false, "title": null}}}},
 {"data": {"name": "cur"}, "transform": [{"filter": "datum.p == 'a'"}, {"fold": ["s", "bs", "pr", "dk", "cb"], "as": ["c", "v"]}, {"filter": "isValid(datum.v)"}], "mark": {"type": "line", "strokeWidth": 3, "clip": true, "interpolate": "monotone"},
  "encoding": {"x": {"field": "m", "type": "quantitative", "scale": {"domain": [5150, 5600], "nice": false, "zero": false}, "axis": {"orient": "top", "values": [5160,5170,5180,5190,5210,5220,5230,5240,5250,5260,5270,5280,5290,5310,5320,5330,5340,5350,5360,5370,5380,5390,5410,5420,5430,5440,5450,5460,5470,5480,5490,5510,5520,5530,5540,5550,5560,5570,5580,5590], "tickSize": -6, "labels": false, "title": null}},
   "y": {"field": "v", "type": "quantitative", "scale": {"type": "log", "domain": [0.01, 1650], "nice": false}, "axis": {"orient": "right", "values": [0.02,0.03,0.04,0.05,0.06,0.07,0.08,0.09,0.2,0.3,0.4,0.5,0.6,0.7,0.8,0.9,2,3,4,5,6,7,8,9,20,30,40,50,60,70,80,90,200,300,400,500,600,700,800,900], "tickSize": -6, "labels": false, "title": null}},
   "color": {"field": "c", "type": "nominal", "scale": {"domain": ["data", "f", "s", "bs", "pr", "cb", "dk"], "range": ["#000000", "#0000ff", "#0000ff", "#000000", "#ff0000", "#ff00ff", "#00ff00"]}, "legend": null},
   "strokeDash": {"field": "c", "type": "nominal", "scale": {"domain": ["data", "f", "s", "bs", "pr", "cb", "dk"], "range": [[1, 0], [1, 0], [3, 2], [3, 2, 1, 2], [3, 3, 1, 3], [7, 4], [6, 2, 1, 2, 1, 2]]}, "legend": null}}},
 {"data": {"values": [{}]}, "mark": {"type": "text", "text": "0-0.046 rad", "fontSize": 35, "color": "#17406d", "align": "right", "baseline": "alphabetic"},
  "encoding": {"x": {"datum": 5581, "type": "quantitative", "scale": {"domain": [5150, 5600], "nice": false, "zero": false}, "axis": null}, "y": {"datum": 537, "type": "quantitative", "scale": {"type": "log", "domain": [0.01, 1650], "nice": false}, "axis": null}}},
 {"data": {"values": [{}]}, "mark": {"type": "text", "text": "LHCb", "fontSize": 29, "fontWeight": "bold", "color": "black", "align": "center", "baseline": "alphabetic"},
  "encoding": {"x": {"datum": 5483, "type": "quantitative", "scale": {"domain": [5150, 5600], "nice": false, "zero": false}, "axis": null}, "y": {"datum": 137, "type": "quantitative", "scale": {"type": "log", "domain": [0.01, 1650], "nice": false}, "axis": null}}},
 {"data": {"values": [{}]}, "mark": {"type": "text", "text": "(a)", "fontSize": 16, "fontWeight": "bold", "color": "black", "align": "center", "baseline": "alphabetic"},
  "encoding": {"x": {"datum": 5480, "type": "quantitative", "scale": {"domain": [5150, 5600], "nice": false, "zero": false}, "axis": null}, "y": {"datum": 56, "type": "quantitative", "scale": {"type": "log", "domain": [0.01, 1650], "nice": false}, "axis": null}}}
]},
{"width": 446, "height": 306, "resolve": {"axis": {"x": "independent", "y": "independent"}}, "layer": [
 {"data": {"name": "pts"}, "transform": [{"filter": "datum.p == 'b'"}], "mark": {"type": "rule", "color": "black", "strokeWidth": 2, "clip": true},
  "encoding": {"x": {"field": "m", "type": "quantitative", "scale": {"domain": [5150, 5600], "nice": false, "zero": false}, "axis": {"values": [5200, 5300, 5400, 5500, 5600], "format": "d", "tickSize": -12, "labelPadding": 20, "title": "m(D*π) [MeV/c²]", "titleAnchor": "end", "titlePadding": 6}},
   "y": {"field": "lo", "type": "quantitative", "scale": {"type": "log", "domain": [0.01, 1650], "nice": false}, "axis": {"values": [0.01, 0.1, 1, 10, 100, 1000], "tickSize": -12, "labelPadding": 21, "labelExpr": "datum.value >= 1000 ? '10³' : datum.value >= 100 ? '10²' : datum.value >= 10 ? '10' : datum.value >= 1 ? '1' : datum.value >= 0.1 ? '10⁻¹' : '10⁻²'", "title": "Candidates / (9 MeV/c²)", "titleAnchor": "end", "titlePadding": 6}},
   "y2": {"field": "hi"}}},
 {"data": {"name": "pts"}, "transform": [{"filter": "datum.p == 'b' && datum.n > 0"}], "mark": {"type": "circle", "color": "black", "opacity": 1, "size": 65, "clip": true},
  "encoding": {"x": {"field": "m", "type": "quantitative", "scale": {"domain": [5150, 5600], "nice": false, "zero": false}, "axis": {"values": [5160,5170,5180,5190,5200,5210,5220,5230,5240,5250,5260,5270,5280,5290,5300,5310,5320,5330,5340,5350,5360,5370,5380,5390,5400,5410,5420,5430,5440,5450,5460,5470,5480,5490,5500,5510,5520,5530,5540,5550,5560,5570,5580,5590], "tickSize": -6, "labels": false, "title": null}},
   "y": {"field": "n", "type": "quantitative", "scale": {"type": "log", "domain": [0.01, 1650], "nice": false}, "axis": {"values": [0.02,0.03,0.04,0.05,0.06,0.07,0.08,0.09,0.2,0.3,0.4,0.5,0.6,0.7,0.8,0.9,2,3,4,5,6,7,8,9,20,30,40,50,60,70,80,90,200,300,400,500,600,700,800,900], "tickSize": -6, "labels": false, "title": null}}}},
 {"data": {"name": "cur"}, "transform": [{"filter": "datum.p == 'b' && isValid(datum.f)"}], "mark": {"type": "line", "color": "#0000ff", "strokeWidth": 3, "clip": true, "interpolate": "monotone"},
  "encoding": {"x": {"field": "m", "type": "quantitative", "scale": {"domain": [5150, 5600], "nice": false, "zero": false}, "axis": {"orient": "top", "values": [5200, 5300, 5400, 5500], "tickSize": -12, "labels": false, "title": null}},
   "y": {"field": "f", "type": "quantitative", "scale": {"type": "log", "domain": [0.01, 1650], "nice": false}, "axis": {"orient": "right", "values": [0.1, 1, 10, 100, 1000], "tickSize": -12, "labels": false, "title": null}}}},
 {"data": {"name": "cur"}, "transform": [{"filter": "datum.p == 'b'"}, {"fold": ["s", "bs", "pr", "dk", "cb"], "as": ["c", "v"]}, {"filter": "isValid(datum.v)"}], "mark": {"type": "line", "strokeWidth": 3, "clip": true, "interpolate": "monotone"},
  "encoding": {"x": {"field": "m", "type": "quantitative", "scale": {"domain": [5150, 5600], "nice": false, "zero": false}, "axis": {"orient": "top", "values": [5160,5170,5180,5190,5210,5220,5230,5240,5250,5260,5270,5280,5290,5310,5320,5330,5340,5350,5360,5370,5380,5390,5410,5420,5430,5440,5450,5460,5470,5480,5490,5510,5520,5530,5540,5550,5560,5570,5580,5590], "tickSize": -6, "labels": false, "title": null}},
   "y": {"field": "v", "type": "quantitative", "scale": {"type": "log", "domain": [0.01, 1650], "nice": false}, "axis": {"orient": "right", "values": [0.02,0.03,0.04,0.05,0.06,0.07,0.08,0.09,0.2,0.3,0.4,0.5,0.6,0.7,0.8,0.9,2,3,4,5,6,7,8,9,20,30,40,50,60,70,80,90,200,300,400,500,600,700,800,900], "tickSize": -6, "labels": false, "title": null}},
   "color": {"field": "c", "type": "nominal", "scale": {"domain": ["data", "f", "s", "bs", "pr", "cb", "dk"], "range": ["#000000", "#0000ff", "#0000ff", "#000000", "#ff0000", "#ff00ff", "#00ff00"]}, "legend": null},
   "strokeDash": {"field": "c", "type": "nominal", "scale": {"domain": ["data", "f", "s", "bs", "pr", "cb", "dk"], "range": [[1, 0], [1, 0], [3, 2], [3, 2, 1, 2], [3, 3, 1, 3], [7, 4], [6, 2, 1, 2, 1, 2]]}, "legend": null}}},
 {"data": {"values": [{}]}, "mark": {"type": "text", "text": "0.046-0.067 rad", "fontSize": 35, "color": "#17406d", "align": "right", "baseline": "alphabetic"},
  "encoding": {"x": {"datum": 5581, "type": "quantitative", "scale": {"domain": [5150, 5600], "nice": false, "zero": false}, "axis": null}, "y": {"datum": 537, "type": "quantitative", "scale": {"type": "log", "domain": [0.01, 1650], "nice": false}, "axis": null}}},
 {"data": {"values": [{}]}, "mark": {"type": "text", "text": "LHCb", "fontSize": 29, "fontWeight": "bold", "color": "black", "align": "center", "baseline": "alphabetic"},
  "encoding": {"x": {"datum": 5483, "type": "quantitative", "scale": {"domain": [5150, 5600], "nice": false, "zero": false}, "axis": null}, "y": {"datum": 137, "type": "quantitative", "scale": {"type": "log", "domain": [0.01, 1650], "nice": false}, "axis": null}}},
 {"data": {"values": [{}]}, "mark": {"type": "text", "text": "(b)", "fontSize": 16, "fontWeight": "bold", "color": "black", "align": "center", "baseline": "alphabetic"},
  "encoding": {"x": {"datum": 5480, "type": "quantitative", "scale": {"domain": [5150, 5600], "nice": false, "zero": false}, "axis": null}, "y": {"datum": 56, "type": "quantitative", "scale": {"type": "log", "domain": [0.01, 1650], "nice": false}, "axis": null}}}
]}
]},
{"spacing": 33, "hconcat": [
{"width": 446, "height": 306, "resolve": {"axis": {"x": "independent", "y": "independent"}}, "layer": [
 {"data": {"name": "pts"}, "transform": [{"filter": "datum.p == 'c'"}], "mark": {"type": "rule", "color": "black", "strokeWidth": 2, "clip": true},
  "encoding": {"x": {"field": "m", "type": "quantitative", "scale": {"domain": [5150, 5600], "nice": false, "zero": false}, "axis": {"values": [5200, 5300, 5400, 5500, 5600], "format": "d", "tickSize": -12, "labelPadding": 20, "title": "m(D*π) [MeV/c²]", "titleAnchor": "end", "titlePadding": 6}},
   "y": {"field": "lo", "type": "quantitative", "scale": {"type": "log", "domain": [0.01, 1650], "nice": false}, "axis": {"values": [0.01, 0.1, 1, 10, 100, 1000], "tickSize": -12, "labelPadding": 21, "labelExpr": "datum.value >= 1000 ? '10³' : datum.value >= 100 ? '10²' : datum.value >= 10 ? '10' : datum.value >= 1 ? '1' : datum.value >= 0.1 ? '10⁻¹' : '10⁻²'", "title": "Candidates / (9 MeV/c²)", "titleAnchor": "end", "titlePadding": 6}},
   "y2": {"field": "hi"}}},
 {"data": {"name": "pts"}, "transform": [{"filter": "datum.p == 'c' && datum.n > 0"}], "mark": {"type": "circle", "color": "black", "opacity": 1, "size": 65, "clip": true},
  "encoding": {"x": {"field": "m", "type": "quantitative", "scale": {"domain": [5150, 5600], "nice": false, "zero": false}, "axis": {"values": [5160,5170,5180,5190,5200,5210,5220,5230,5240,5250,5260,5270,5280,5290,5300,5310,5320,5330,5340,5350,5360,5370,5380,5390,5400,5410,5420,5430,5440,5450,5460,5470,5480,5490,5500,5510,5520,5530,5540,5550,5560,5570,5580,5590], "tickSize": -6, "labels": false, "title": null}},
   "y": {"field": "n", "type": "quantitative", "scale": {"type": "log", "domain": [0.01, 1650], "nice": false}, "axis": {"values": [0.02,0.03,0.04,0.05,0.06,0.07,0.08,0.09,0.2,0.3,0.4,0.5,0.6,0.7,0.8,0.9,2,3,4,5,6,7,8,9,20,30,40,50,60,70,80,90,200,300,400,500,600,700,800,900], "tickSize": -6, "labels": false, "title": null}}}},
 {"data": {"name": "cur"}, "transform": [{"filter": "datum.p == 'c' && isValid(datum.f)"}], "mark": {"type": "line", "color": "#0000ff", "strokeWidth": 3, "clip": true, "interpolate": "monotone"},
  "encoding": {"x": {"field": "m", "type": "quantitative", "scale": {"domain": [5150, 5600], "nice": false, "zero": false}, "axis": {"orient": "top", "values": [5200, 5300, 5400, 5500], "tickSize": -12, "labels": false, "title": null}},
   "y": {"field": "f", "type": "quantitative", "scale": {"type": "log", "domain": [0.01, 1650], "nice": false}, "axis": {"orient": "right", "values": [0.1, 1, 10, 100, 1000], "tickSize": -12, "labels": false, "title": null}}}},
 {"data": {"name": "cur"}, "transform": [{"filter": "datum.p == 'c'"}, {"fold": ["s", "bs", "pr", "dk", "cb"], "as": ["c", "v"]}, {"filter": "isValid(datum.v)"}], "mark": {"type": "line", "strokeWidth": 3, "clip": true, "interpolate": "monotone"},
  "encoding": {"x": {"field": "m", "type": "quantitative", "scale": {"domain": [5150, 5600], "nice": false, "zero": false}, "axis": {"orient": "top", "values": [5160,5170,5180,5190,5210,5220,5230,5240,5250,5260,5270,5280,5290,5310,5320,5330,5340,5350,5360,5370,5380,5390,5410,5420,5430,5440,5450,5460,5470,5480,5490,5510,5520,5530,5540,5550,5560,5570,5580,5590], "tickSize": -6, "labels": false, "title": null}},
   "y": {"field": "v", "type": "quantitative", "scale": {"type": "log", "domain": [0.01, 1650], "nice": false}, "axis": {"orient": "right", "values": [0.02,0.03,0.04,0.05,0.06,0.07,0.08,0.09,0.2,0.3,0.4,0.5,0.6,0.7,0.8,0.9,2,3,4,5,6,7,8,9,20,30,40,50,60,70,80,90,200,300,400,500,600,700,800,900], "tickSize": -6, "labels": false, "title": null}},
   "color": {"field": "c", "type": "nominal", "scale": {"domain": ["data", "f", "s", "bs", "pr", "cb", "dk"], "range": ["#000000", "#0000ff", "#0000ff", "#000000", "#ff0000", "#ff00ff", "#00ff00"]}, "legend": null},
   "strokeDash": {"field": "c", "type": "nominal", "scale": {"domain": ["data", "f", "s", "bs", "pr", "cb", "dk"], "range": [[1, 0], [1, 0], [3, 2], [3, 2, 1, 2], [3, 3, 1, 3], [7, 4], [6, 2, 1, 2, 1, 2]]}, "legend": null}}},
 {"data": {"values": [{}]}, "mark": {"type": "text", "text": "0.067-0.092 rad", "fontSize": 35, "color": "#17406d", "align": "right", "baseline": "alphabetic"},
  "encoding": {"x": {"datum": 5588, "type": "quantitative", "scale": {"domain": [5150, 5600], "nice": false, "zero": false}, "axis": null}, "y": {"datum": 537, "type": "quantitative", "scale": {"type": "log", "domain": [0.01, 1650], "nice": false}, "axis": null}}},
 {"data": {"values": [{}]}, "mark": {"type": "text", "text": "LHCb", "fontSize": 29, "fontWeight": "bold", "color": "black", "align": "center", "baseline": "alphabetic"},
  "encoding": {"x": {"datum": 5483, "type": "quantitative", "scale": {"domain": [5150, 5600], "nice": false, "zero": false}, "axis": null}, "y": {"datum": 137, "type": "quantitative", "scale": {"type": "log", "domain": [0.01, 1650], "nice": false}, "axis": null}}},
 {"data": {"values": [{}]}, "mark": {"type": "text", "text": "(c)", "fontSize": 16, "fontWeight": "bold", "color": "black", "align": "center", "baseline": "alphabetic"},
  "encoding": {"x": {"datum": 5480, "type": "quantitative", "scale": {"domain": [5150, 5600], "nice": false, "zero": false}, "axis": null}, "y": {"datum": 56, "type": "quantitative", "scale": {"type": "log", "domain": [0.01, 1650], "nice": false}, "axis": null}}}
]},
{"width": 446, "height": 306, "resolve": {"axis": {"x": "independent", "y": "independent"}}, "layer": [
 {"data": {"name": "pts"}, "transform": [{"filter": "datum.p == 'd'"}], "mark": {"type": "rule", "color": "black", "strokeWidth": 2, "clip": true},
  "encoding": {"x": {"field": "m", "type": "quantitative", "scale": {"domain": [5150, 5600], "nice": false, "zero": false}, "axis": {"values": [5200, 5300, 5400, 5500, 5600], "format": "d", "tickSize": -12, "labelPadding": 20, "title": "m(D*π) [MeV/c²]", "titleAnchor": "end", "titlePadding": 6}},
   "y": {"field": "lo", "type": "quantitative", "scale": {"type": "log", "domain": [0.01, 1650], "nice": false}, "axis": {"values": [0.01, 0.1, 1, 10, 100, 1000], "tickSize": -12, "labelPadding": 21, "labelExpr": "datum.value >= 1000 ? '10³' : datum.value >= 100 ? '10²' : datum.value >= 10 ? '10' : datum.value >= 1 ? '1' : datum.value >= 0.1 ? '10⁻¹' : '10⁻²'", "title": "Candidates / (9 MeV/c²)", "titleAnchor": "end", "titlePadding": 6}},
   "y2": {"field": "hi"}}},
 {"data": {"name": "pts"}, "transform": [{"filter": "datum.p == 'd' && datum.n > 0"}], "mark": {"type": "circle", "color": "black", "opacity": 1, "size": 65, "clip": true},
  "encoding": {"x": {"field": "m", "type": "quantitative", "scale": {"domain": [5150, 5600], "nice": false, "zero": false}, "axis": {"values": [5160,5170,5180,5190,5200,5210,5220,5230,5240,5250,5260,5270,5280,5290,5300,5310,5320,5330,5340,5350,5360,5370,5380,5390,5400,5410,5420,5430,5440,5450,5460,5470,5480,5490,5500,5510,5520,5530,5540,5550,5560,5570,5580,5590], "tickSize": -6, "labels": false, "title": null}},
   "y": {"field": "n", "type": "quantitative", "scale": {"type": "log", "domain": [0.01, 1650], "nice": false}, "axis": {"values": [0.02,0.03,0.04,0.05,0.06,0.07,0.08,0.09,0.2,0.3,0.4,0.5,0.6,0.7,0.8,0.9,2,3,4,5,6,7,8,9,20,30,40,50,60,70,80,90,200,300,400,500,600,700,800,900], "tickSize": -6, "labels": false, "title": null}}}},
 {"data": {"name": "cur"}, "transform": [{"filter": "datum.p == 'd' && isValid(datum.f)"}], "mark": {"type": "line", "color": "#0000ff", "strokeWidth": 3, "clip": true, "interpolate": "monotone"},
  "encoding": {"x": {"field": "m", "type": "quantitative", "scale": {"domain": [5150, 5600], "nice": false, "zero": false}, "axis": {"orient": "top", "values": [5200, 5300, 5400, 5500], "tickSize": -12, "labels": false, "title": null}},
   "y": {"field": "f", "type": "quantitative", "scale": {"type": "log", "domain": [0.01, 1650], "nice": false}, "axis": {"orient": "right", "values": [0.1, 1, 10, 100, 1000], "tickSize": -12, "labels": false, "title": null}}}},
 {"data": {"name": "cur"}, "transform": [{"filter": "datum.p == 'd'"}, {"fold": ["s", "bs", "pr", "dk", "cb"], "as": ["c", "v"]}, {"filter": "isValid(datum.v)"}], "mark": {"type": "line", "strokeWidth": 3, "clip": true, "interpolate": "monotone"},
  "encoding": {"x": {"field": "m", "type": "quantitative", "scale": {"domain": [5150, 5600], "nice": false, "zero": false}, "axis": {"orient": "top", "values": [5160,5170,5180,5190,5210,5220,5230,5240,5250,5260,5270,5280,5290,5310,5320,5330,5340,5350,5360,5370,5380,5390,5410,5420,5430,5440,5450,5460,5470,5480,5490,5510,5520,5530,5540,5550,5560,5570,5580,5590], "tickSize": -6, "labels": false, "title": null}},
   "y": {"field": "v", "type": "quantitative", "scale": {"type": "log", "domain": [0.01, 1650], "nice": false}, "axis": {"orient": "right", "values": [0.02,0.03,0.04,0.05,0.06,0.07,0.08,0.09,0.2,0.3,0.4,0.5,0.6,0.7,0.8,0.9,2,3,4,5,6,7,8,9,20,30,40,50,60,70,80,90,200,300,400,500,600,700,800,900], "tickSize": -6, "labels": false, "title": null}},
   "color": {"field": "c", "type": "nominal", "scale": {"domain": ["data", "f", "s", "bs", "pr", "cb", "dk"], "range": ["#000000", "#0000ff", "#0000ff", "#000000", "#ff0000", "#ff00ff", "#00ff00"]}, "legend": null},
   "strokeDash": {"field": "c", "type": "nominal", "scale": {"domain": ["data", "f", "s", "bs", "pr", "cb", "dk"], "range": [[1, 0], [1, 0], [3, 2], [3, 2, 1, 2], [3, 3, 1, 3], [7, 4], [6, 2, 1, 2, 1, 2]]}, "legend": null}}},
 {"data": {"values": [{}]}, "mark": {"type": "text", "text": "0.092-0.128 rad", "fontSize": 35, "color": "#17406d", "align": "right", "baseline": "alphabetic"},
  "encoding": {"x": {"datum": 5577, "type": "quantitative", "scale": {"domain": [5150, 5600], "nice": false, "zero": false}, "axis": null}, "y": {"datum": 537, "type": "quantitative", "scale": {"type": "log", "domain": [0.01, 1650], "nice": false}, "axis": null}}},
 {"data": {"values": [{}]}, "mark": {"type": "text", "text": "LHCb", "fontSize": 29, "fontWeight": "bold", "color": "black", "align": "center", "baseline": "alphabetic"},
  "encoding": {"x": {"datum": 5483, "type": "quantitative", "scale": {"domain": [5150, 5600], "nice": false, "zero": false}, "axis": null}, "y": {"datum": 137, "type": "quantitative", "scale": {"type": "log", "domain": [0.01, 1650], "nice": false}, "axis": null}}},
 {"data": {"values": [{}]}, "mark": {"type": "text", "text": "(d)", "fontSize": 16, "fontWeight": "bold", "color": "black", "align": "center", "baseline": "alphabetic"},
  "encoding": {"x": {"datum": 5480, "type": "quantitative", "scale": {"domain": [5150, 5600], "nice": false, "zero": false}, "axis": null}, "y": {"datum": 56, "type": "quantitative", "scale": {"type": "log", "domain": [0.01, 1650], "nice": false}, "axis": null}}}
]}
]}
]},
{"spacing": 90, "hconcat": [
{"width": 446, "height": 306, "resolve": {"axis": {"x": "independent", "y": "independent"}}, "layer": [
 {"data": {"name": "pts"}, "transform": [{"filter": "datum.p == 'e'"}], "mark": {"type": "rule", "color": "black", "strokeWidth": 2, "clip": true},
  "encoding": {"x": {"field": "m", "type": "quantitative", "scale": {"domain": [5150, 5600], "nice": false, "zero": false}, "axis": {"values": [5200, 5300, 5400, 5500, 5600], "format": "d", "tickSize": -12, "labelPadding": 20, "title": "m(D*π) [MeV/c²]", "titleAnchor": "end", "titlePadding": 6}},
   "y": {"field": "lo", "type": "quantitative", "scale": {"type": "log", "domain": [0.01, 1650], "nice": false}, "axis": {"values": [0.01, 0.1, 1, 10, 100, 1000], "tickSize": -12, "labelPadding": 21, "labelExpr": "datum.value >= 1000 ? '10³' : datum.value >= 100 ? '10²' : datum.value >= 10 ? '10' : datum.value >= 1 ? '1' : datum.value >= 0.1 ? '10⁻¹' : '10⁻²'", "title": "Candidates / (9 MeV/c²)", "titleAnchor": "end", "titlePadding": 6}},
   "y2": {"field": "hi"}}},
 {"data": {"name": "pts"}, "transform": [{"filter": "datum.p == 'e' && datum.n > 0"}], "mark": {"type": "circle", "color": "black", "opacity": 1, "size": 65, "clip": true},
  "encoding": {"x": {"field": "m", "type": "quantitative", "scale": {"domain": [5150, 5600], "nice": false, "zero": false}, "axis": {"values": [5160,5170,5180,5190,5200,5210,5220,5230,5240,5250,5260,5270,5280,5290,5300,5310,5320,5330,5340,5350,5360,5370,5380,5390,5400,5410,5420,5430,5440,5450,5460,5470,5480,5490,5500,5510,5520,5530,5540,5550,5560,5570,5580,5590], "tickSize": -6, "labels": false, "title": null}},
   "y": {"field": "n", "type": "quantitative", "scale": {"type": "log", "domain": [0.01, 1650], "nice": false}, "axis": {"values": [0.02,0.03,0.04,0.05,0.06,0.07,0.08,0.09,0.2,0.3,0.4,0.5,0.6,0.7,0.8,0.9,2,3,4,5,6,7,8,9,20,30,40,50,60,70,80,90,200,300,400,500,600,700,800,900], "tickSize": -6, "labels": false, "title": null}}}},
 {"data": {"name": "cur"}, "transform": [{"filter": "datum.p == 'e' && isValid(datum.f)"}], "mark": {"type": "line", "color": "#0000ff", "strokeWidth": 3, "clip": true, "interpolate": "monotone"},
  "encoding": {"x": {"field": "m", "type": "quantitative", "scale": {"domain": [5150, 5600], "nice": false, "zero": false}, "axis": {"orient": "top", "values": [5200, 5300, 5400, 5500], "tickSize": -12, "labels": false, "title": null}},
   "y": {"field": "f", "type": "quantitative", "scale": {"type": "log", "domain": [0.01, 1650], "nice": false}, "axis": {"orient": "right", "values": [0.1, 1, 10, 100, 1000], "tickSize": -12, "labels": false, "title": null}}}},
 {"data": {"name": "cur"}, "transform": [{"filter": "datum.p == 'e'"}, {"fold": ["s", "bs", "pr", "dk", "cb"], "as": ["c", "v"]}, {"filter": "isValid(datum.v)"}], "mark": {"type": "line", "strokeWidth": 3, "clip": true, "interpolate": "monotone"},
  "encoding": {"x": {"field": "m", "type": "quantitative", "scale": {"domain": [5150, 5600], "nice": false, "zero": false}, "axis": {"orient": "top", "values": [5160,5170,5180,5190,5210,5220,5230,5240,5250,5260,5270,5280,5290,5310,5320,5330,5340,5350,5360,5370,5380,5390,5410,5420,5430,5440,5450,5460,5470,5480,5490,5510,5520,5530,5540,5550,5560,5570,5580,5590], "tickSize": -6, "labels": false, "title": null}},
   "y": {"field": "v", "type": "quantitative", "scale": {"type": "log", "domain": [0.01, 1650], "nice": false}, "axis": {"orient": "right", "values": [0.02,0.03,0.04,0.05,0.06,0.07,0.08,0.09,0.2,0.3,0.4,0.5,0.6,0.7,0.8,0.9,2,3,4,5,6,7,8,9,20,30,40,50,60,70,80,90,200,300,400,500,600,700,800,900], "tickSize": -6, "labels": false, "title": null}},
   "color": {"field": "c", "type": "nominal", "scale": {"domain": ["data", "f", "s", "bs", "pr", "cb", "dk"], "range": ["#000000", "#0000ff", "#0000ff", "#000000", "#ff0000", "#ff00ff", "#00ff00"]}, "legend": null},
   "strokeDash": {"field": "c", "type": "nominal", "scale": {"domain": ["data", "f", "s", "bs", "pr", "cb", "dk"], "range": [[1, 0], [1, 0], [3, 2], [3, 2, 1, 2], [3, 3, 1, 3], [7, 4], [6, 2, 1, 2, 1, 2]]}, "legend": null}}},
 {"data": {"values": [{}]}, "mark": {"type": "text", "text": "0.128-0.4 rad", "fontSize": 35, "color": "#17406d", "align": "right", "baseline": "alphabetic"},
  "encoding": {"x": {"datum": 5588, "type": "quantitative", "scale": {"domain": [5150, 5600], "nice": false, "zero": false}, "axis": null}, "y": {"datum": 537, "type": "quantitative", "scale": {"type": "log", "domain": [0.01, 1650], "nice": false}, "axis": null}}},
 {"data": {"values": [{}]}, "mark": {"type": "text", "text": "LHCb", "fontSize": 29, "fontWeight": "bold", "color": "black", "align": "center", "baseline": "alphabetic"},
  "encoding": {"x": {"datum": 5483, "type": "quantitative", "scale": {"domain": [5150, 5600], "nice": false, "zero": false}, "axis": null}, "y": {"datum": 137, "type": "quantitative", "scale": {"type": "log", "domain": [0.01, 1650], "nice": false}, "axis": null}}},
 {"data": {"values": [{}]}, "mark": {"type": "text", "text": "(e)", "fontSize": 16, "fontWeight": "bold", "color": "black", "align": "center", "baseline": "alphabetic"},
  "encoding": {"x": {"datum": 5480, "type": "quantitative", "scale": {"domain": [5150, 5600], "nice": false, "zero": false}, "axis": null}, "y": {"datum": 56, "type": "quantitative", "scale": {"type": "log", "domain": [0.01, 1650], "nice": false}, "axis": null}}}
]},
{"width": 470, "height": 306, "view": {"stroke": null}, "data": {"name": "leg"}, "layer": [
 {"mark": {"type": "rule", "strokeWidth": 4},
  "encoding": {"x": {"datum": 0, "type": "quantitative", "scale": {"domain": [0, 470], "nice": false, "zero": false}, "axis": null}, "x2": {"datum": 77},
   "y": {"field": "o", "type": "quantitative", "scale": {"domain": [-0.883, 5.872], "reverse": true, "nice": false, "zero": false}, "axis": null},
   "color": {"field": "c", "type": "nominal", "scale": {"domain": ["data", "f", "s", "bs", "pr", "cb", "dk"], "range": ["#000000", "#0000ff", "#0000ff", "#000000", "#ff0000", "#ff00ff", "#00ff00"]}, "legend": null},
   "strokeDash": {"field": "c", "type": "nominal", "scale": {"domain": ["data", "f", "s", "bs", "pr", "cb", "dk"], "range": [[1, 0], [1, 0], [3, 2], [3, 2, 1, 2], [3, 3, 1, 3], [7, 4], [6, 2, 1, 2, 1, 2]]}, "legend": null}}},
 {"transform": [{"filter": "datum.o == 0"}], "mark": {"type": "circle", "color": "black", "opacity": 1, "size": 45},
  "encoding": {"x": {"datum": 38.5, "type": "quantitative", "scale": {"domain": [0, 470], "nice": false, "zero": false}, "axis": null},
   "y": {"field": "o", "type": "quantitative", "scale": {"domain": [-0.883, 5.872], "reverse": true, "nice": false, "zero": false}, "axis": null}}},
 {"mark": {"type": "text", "fontSize": 34, "align": "left", "baseline": "middle", "color": "black"},
  "encoding": {"x": {"datum": 95, "type": "quantitative", "scale": {"domain": [0, 470], "nice": false, "zero": false}, "axis": null},
   "y": {"field": "o", "type": "quantitative", "scale": {"domain": [-0.883, 5.872], "reverse": true, "nice": false, "zero": false}, "axis": null},
   "text": {"field": "t"}}}
]}
]}
]
}
